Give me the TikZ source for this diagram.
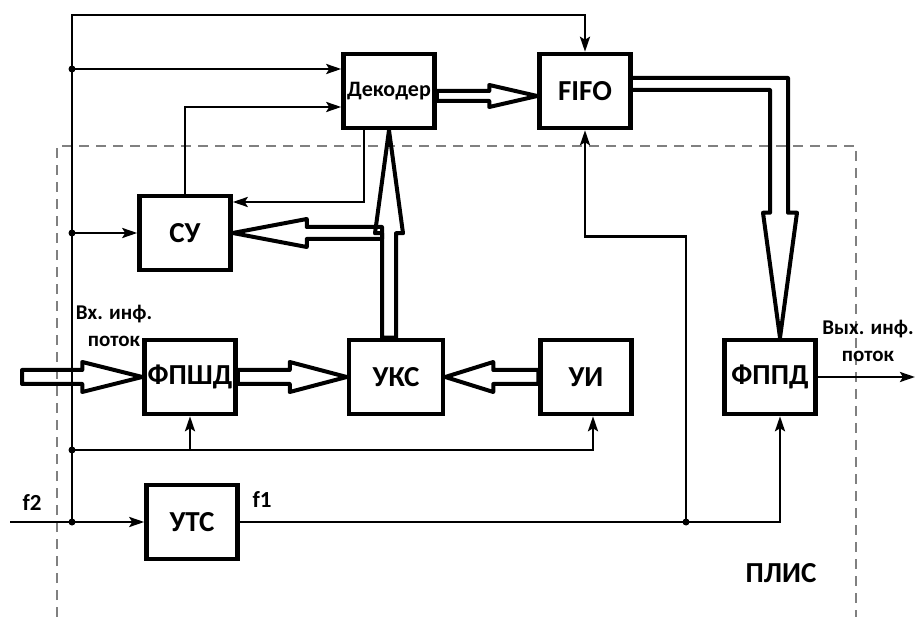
\documentclass[tikz,border=0pt]{standalone}
\usepackage{fontspec}
\setmainfont{Carlito}
\usetikzlibrary{arrows.meta, calc}

% hollow bus arrow: start, end, half shaft, half head, head length
\newcommand{\fatarrow}[5]{%
  \draw[fatline] let \p1=#1, \p2=#2, \n1={atan2(\y2-\y1,\x2-\x1)} in
    ($(\p1)+({\n1+90}:#3)$) -- ($(\p2)+({\n1+180}:#5)+({\n1+90}:#3)$)
    -- ($(\p2)+({\n1+180}:#5)+({\n1+90}:#4)$) -- (\p2)
    -- ($(\p2)+({\n1+180}:#5)+({\n1-90}:#4)$)
    -- ($(\p2)+({\n1+180}:#5)+({\n1-90}:#3)$)
    -- ($(\p1)+({\n1-90}:#3)$) -- cycle;}

\begin{document}
\begin{tikzpicture}[
  x=1pt, y=-1pt,
  blk/.style={rectangle, draw, line width=4.5pt,
              minimum width=91pt, minimum height=74pt,
              inner sep=0pt, font=\bfseries\fontsize{29}{31}\selectfont},
  sig/.style={line width=2.6pt,
              -{Stealth[length=15pt, width=10pt, inset=3pt]}},
  fatline/.style={line width=4pt, line join=round},
  lbl/.style={font=\bfseries\fontsize{21}{27}\selectfont,
              align=center, inner sep=0pt}
]
  \useasboundingbox (0,0) rectangle (916,617);

  % ПЛИС border
  \draw[gray, line width=1.2pt, dash pattern=on 10pt off 7pt]
    (57,617) -- (57,146) -- (856,146) -- (856,617);

  \node[blk, font=\bfseries\fontsize{22}{24}\selectfont] (dec) at (389,91) {Декодер};
  \node[blk] (fifo) at (585,91) {FIFO};
  \node[blk] (su) at (185,233) {СУ};
  \node[blk] (fpshd) at (190,377) {ФПШД};
  \node[blk, minimum width=94pt] (uks) at (396,377) {УКС};
  \node[blk] (ui) at (586,377) {УИ};
  \node[blk] (fppd) at (770,377) {ФППД};
  \node[blk] (uts) at (192,522) {УТС};

  \coordinate (top) at (72,15);
  \coordinate (j1) at (72,69);
  \coordinate (j2) at (72,233);
  \coordinate (j3) at (72,450);
  \coordinate (j4) at (72,522);
  \coordinate (j5) at (686,522);
  \coordinate (in) at (10,522);
  \coordinate (src) at (22,377);
  \coordinate (out) at (915,377);
  \foreach \j in {j1,j2,j3,j4,j5}
    \fill (\j) circle (3.5pt);

  % signal lines
  \draw[sig] (j4) -- (top) -| (fifo.north);
  \draw[sig] (j1) -- (j1 -| dec.west);
  \draw[sig] (su.north) |- ($(dec.west)+(0,16)$);
  \draw[sig] ($(dec.south)+(-25,0)$) |- ($(su.east)+(0,-31)$);
  \draw[sig] (j2) -- (su.west);
  \draw[sig] (j3) -| ($(ui.south)+(7,0)$);
  \draw[sig] (fpshd.south |- j3) -- (fpshd.south);
  \draw[sig] (in) -- (uts.west);
  \draw[sig] (uts.east) -| ($(fppd.south)+(10,0)$);
  \draw[sig] (j5) |- ($(fifo.south)+(0,106)$) -- (fifo.south);
  \draw[sig] (fppd.east) -- (out);

  % data buses
  \fatarrow{(src)}{(fpshd.west)}{7pt}{15pt}{60pt}
  \fatarrow{(fpshd.east)}{(uks.west)}{7pt}{15pt}{57pt}
  \fatarrow{(ui.west)}{(uks.east)}{7pt}{15pt}{48pt}
  \fatarrow{($(dec.east)+(0,5)$)}{($(fifo.west)+(0,5)$)}{5pt}{11pt}{48pt}
  \fatarrow{(uks.north -| dec.south)}{(dec.south)}{7pt}{14pt}{103pt}
  \fatarrow{($(dec.south |- su.east)+(-7,0)$)}{(su.east)}{6pt}{14pt}{74pt}
  \draw[fatline] ($(fifo.east)+(0,-13)$) -| ($(fppd.north)+(18,-125)$)
    -- ++(9,0) -- ($(fppd.north)+(10,0)$) -- ($(fppd.north)+(-7,-125)$)
    -- ++(7,0) |- ($(fifo.east)+(0,-1)$);

  \node[lbl] (inlbl) at (114,326) {Вх. инф.\\поток};
  \node[lbl] (outlbl) at (868,341) {Вых. инф.\\поток};
  \node[lbl, font=\bfseries\fontsize{23}{25}\selectfont] (f2) at (32,503) {f2};
  \node[lbl, font=\bfseries\fontsize{23}{25}\selectfont] (f1) at (262,500) {f1};
  \node[lbl, font=\bfseries\fontsize{29}{31}\selectfont] (plis) at (781,573) {ПЛИС};
\end{tikzpicture}
\end{document}
